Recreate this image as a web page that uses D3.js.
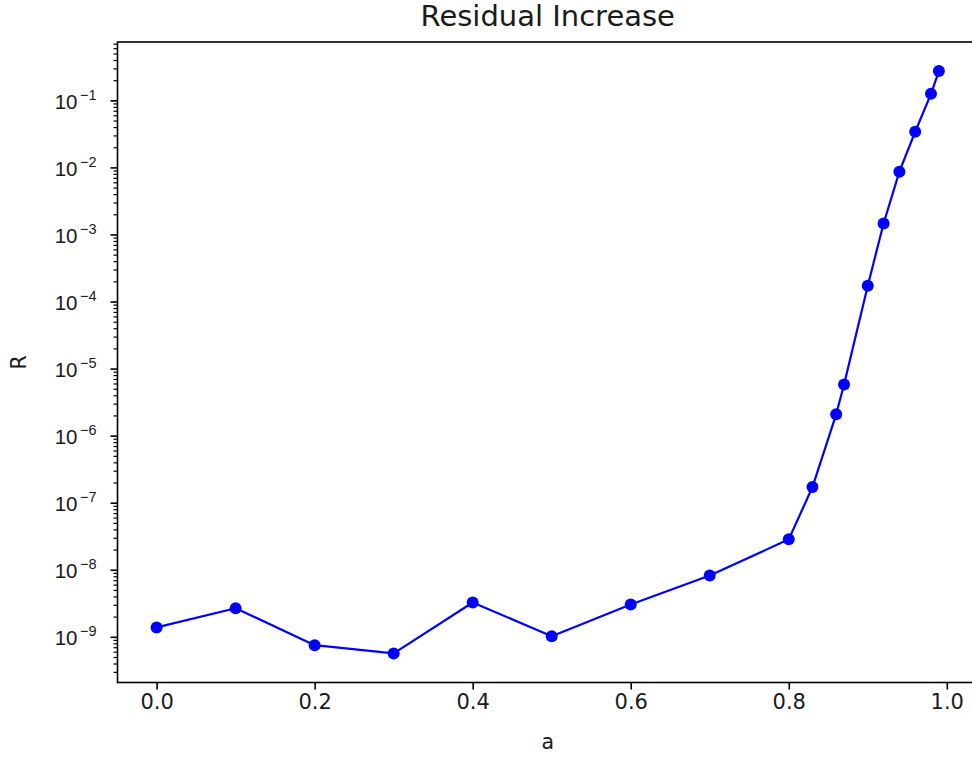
<!DOCTYPE html>
<html>
<head>
<meta charset="utf-8">
<script src="https://cdn.jsdelivr.net/npm/d3@7"></script>
<style>
  body { margin: 0; background: #fff; }
  svg { display: block; font-family: "DejaVu Sans", sans-serif; }
</style>
</head>
<body>
<svg id="chart"></svg>
<script>
// residual R against parameter a
const aValues = [0.0, 0.1, 0.2, 0.3, 0.4, 0.5, 0.6, 0.7, 0.8, 0.83, 0.86, 0.87, 0.9, 0.92, 0.94, 0.96, 0.98, 0.99]
const rValues = [1.38e-9, 2.67e-9, 7.5e-10, 5.66e-10, 3.25e-9, 1.02e-9, 3.03e-9, 8.2e-9, 2.84e-8,
                 1.71e-7, 2.08e-6, 5.78e-6, 1.72e-4, 1.46e-3, 8.65e-3, 3.40e-2, 0.125, 0.273]
const xTicks = [0.0, 0.2, 0.4, 0.6, 0.8, 1.0]
const yExponents = [-9, -8, -7, -6, -5, -4, -3, -2, -1]
const titleText = "Residual Increase"
const xLabel = "a"
const yLabel = "R"

const width = 972
const height = 759
const margin = {top: 42, right: -6, bottom: 76.5, left: 117.5}

const svg = d3.select("#chart")
  .attr("width", width)
  .attr("height", height)
  .attr("viewBox", [0, 0, width, height])

// matplotlib style autoscale: 5% padding (in log space for y)
const xExt = d3.extent(aValues)
const xPad = (xExt[1] - xExt[0]) * 0.05
const yExt = d3.extent(rValues).map(Math.log10)
const yPad = (yExt[1] - yExt[0]) * 0.05

const x = d3.scaleLinear()
  .domain([xExt[0] - xPad, xExt[1] + xPad])
  .range([margin.left, width - margin.right])

const y = d3.scaleLog()
  .domain([Math.pow(10, yExt[0] - yPad), Math.pow(10, yExt[1] + yPad)])
  .range([height - margin.bottom, margin.top])

const majors = yExponents.map(e => Math.pow(10, e))
const minors = []
for (let e = -11; e <= 1; e++) {
  for (let m = 2; m <= 9; m++) {
    const v = m * Math.pow(10, e)
    if (v >= y.domain()[0] && v <= y.domain()[1]) minors.push(v)
  }
}

// x axis
const xAxis = svg.append("g")
  .attr("transform", `translate(0,${height - margin.bottom})`)
  .call(d3.axisBottom(x).tickValues(xTicks).tickFormat(d3.format(".1f"))
    .tickSize(7).tickPadding(5).tickSizeOuter(0))
xAxis.select(".domain").remove()
xAxis.selectAll("line").attr("stroke", "#000").attr("stroke-width", 1.6)
xAxis.selectAll("text")
  .attr("font-size", 21)
  .attr("fill", "#1a1a1a")
  .attr("font-family", "DejaVu Sans")

// y axis minor ticks
const yMinor = svg.append("g")
  .attr("transform", `translate(${margin.left},0)`)
  .call(d3.axisLeft(y).tickValues(minors).tickFormat("").tickSize(4).tickSizeOuter(0))
yMinor.select(".domain").remove()
yMinor.selectAll("line").attr("stroke", "#000").attr("stroke-width", 1.2)

// y axis major ticks with 10^n labels
const yAxis = svg.append("g")
  .attr("transform", `translate(${margin.left},0)`)
  .call(d3.axisLeft(y).tickValues(majors).tickFormat("").tickSize(7).tickSizeOuter(0))
yAxis.select(".domain").remove()
yAxis.selectAll("line").attr("stroke", "#000").attr("stroke-width", 1.6)
yAxis.selectAll(".tick").each(function(d) {
  const t = d3.select(this).append("text")
    .attr("x", -21)
    .attr("y", 8)
    .attr("text-anchor", "end")
    .attr("fill", "#1a1a1a")
    .attr("font-size", 20.5)
  t.append("tspan").text("10")
  t.append("tspan")
    .attr("font-size", 14.5)
    .attr("dx", 2.5)
    .attr("dy", -9)
    .text("\u2212" + Math.abs(Math.round(Math.log10(d))))
})

// data line and markers
const line = d3.line()
  .x((d, i) => x(aValues[i]))
  .y(d => y(d))

svg.append("path")
  .datum(rValues)
  .attr("fill", "none")
  .attr("stroke", "#0000ff")
  .attr("stroke-width", 2.2)
  .attr("stroke-linejoin", "round")
  .attr("d", line)

svg.append("g")
  .attr("fill", "#0000ff")
  .selectAll("circle")
  .data(rValues)
  .join("circle")
    .attr("cx", (d, i) => x(aValues[i]))
    .attr("cy", d => y(d))
    .attr("r", 6)

// spines
svg.append("rect")
  .attr("x", margin.left)
  .attr("y", margin.top)
  .attr("width", width - margin.right - margin.left)
  .attr("height", height - margin.bottom - margin.top)
  .attr("fill", "none")
  .attr("stroke", "#000")
  .attr("stroke-width", 1.6)

// title and labels
svg.append("text")
  .attr("x", (margin.left + width - margin.right) / 2)
  .attr("y", 26)
  .attr("text-anchor", "middle")
  .attr("font-size", 29)
  .attr("fill", "#1a1a1a")
  .text(titleText)

svg.append("text")
  .attr("x", (margin.left + width - margin.right) / 2)
  .attr("y", 749)
  .attr("text-anchor", "middle")
  .attr("font-size", 20.5)
  .attr("fill", "#1a1a1a")
  .text(xLabel)

svg.append("text")
  .attr("transform", `translate(26,${(margin.top + height - margin.bottom) / 2}) rotate(-90)`)
  .attr("text-anchor", "middle")
  .attr("font-size", 20.5)
  .attr("fill", "#1a1a1a")
  .text(yLabel)
</script>
</body>
</html>
